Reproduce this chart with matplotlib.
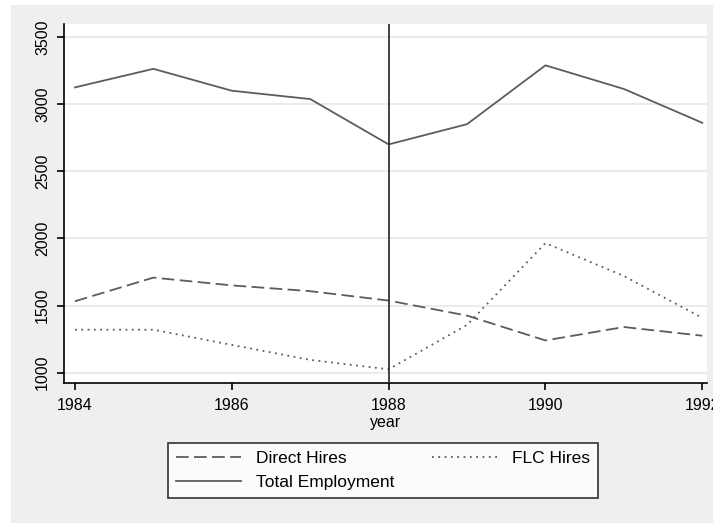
import matplotlib
matplotlib.use("Agg")
import matplotlib.pyplot as plt
from matplotlib.patches import Rectangle

years = [1984, 1985, 1986, 1987, 1988, 1989, 1990, 1991, 1992]
direct_hires = [1532, 1708, 1650, 1607, 1537, 1425, 1240, 1340, 1275]
flc_hires = [1320, 1320, 1207, 1095, 1025, 1356, 1965, 1720, 1408]
total_employment = [3125, 3263, 3100, 3038, 2700, 2851, 3289, 3113, 2861]
x_ticks = [1984, 1986, 1988, 1990, 1992]
y_ticks = [1000, 1500, 2000, 2500, 3000, 3500]
break_year = 1988

plt.rcParams["font.family"] = ["Liberation Sans", "DejaVu Sans"]

fig = plt.figure(figsize=(7.13, 5.23), dpi=100, facecolor="white")
fig.patches.append(Rectangle((11 / 713, -0.02), 1, 1.02 - 5 / 523, transform=fig.transFigure,
                             facecolor="#efefef", edgecolor="none", zorder=-10))

ax = fig.add_axes([64 / 713, 1 - 383 / 523, (707 - 64) / 713, (383 - 24) / 523])
ax.set_facecolor("white")

line_color = "#5c5c5c"
l1, = ax.plot(years, direct_hires, color=line_color, lw=1.3, linestyle=(0, (7, 3)), label="Direct Hires")
l2, = ax.plot(years, flc_hires, color=line_color, lw=1.3, linestyle=(0, (1, 2.5)), label="FLC Hires")
l3, = ax.plot(years, total_employment, color=line_color, lw=1.3, label="Total Employment")

ax.axvline(break_year, color="#333333", lw=1.3, zorder=3)

ax.set_xlim(1983.86, 1992.06)
ax.set_ylim(923, 3597)
ax.set_xticks(x_ticks)
ax.set_yticks(y_ticks)
ax.set_yticklabels([str(v) for v in y_ticks], rotation=90, va="center")
ax.grid(axis="y", color="#ebebeb", lw=1.5)
ax.set_axisbelow(True)

for side in ["top", "right"]:
    ax.spines[side].set_visible(False)
for side in ["left", "bottom"]:
    ax.spines[side].set_color("black")
    ax.spines[side].set_linewidth(1.2)

ax.tick_params(axis="both", direction="out", length=5, width=1.2, labelsize=11.5, colors="black")
ax.tick_params(axis="x", pad=6)
ax.tick_params(axis="y", pad=5)

ax.set_xlabel("year", fontsize=11.5, labelpad=1)

leg = fig.legend(
    handles=[l1, l3, l2],
    loc="center",
    bbox_to_anchor=((169 + 597) / 2 / 713, 1 - (443 + 498) / 2 / 523),
    ncol=2,
    fontsize=12.5,
    handlelength=3.75,
    handletextpad=0.85,
    columnspacing=2.2,
    labelspacing=0.5,
    borderpad=0.45,
    borderaxespad=0,
    fancybox=False,
    frameon=True,
)
leg.get_frame().set_edgecolor("black")
leg.get_frame().set_linewidth(1.2)

fig.savefig("out.png", dpi=100, facecolor=fig.get_facecolor())
